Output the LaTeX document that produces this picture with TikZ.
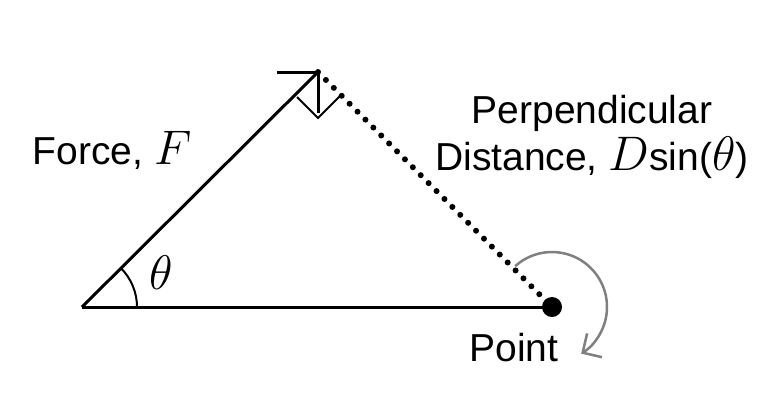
\documentclass[tikz,border=0pt]{standalone}
\usepackage{fontspec}
\usepackage{graphicx}
\setmainfont{Liberation Sans}
\usetikzlibrary{arrows.meta,calc}
\newcommand{\mybigmath}[1]{\scalebox{1.95}{$#1$}}
\begin{document}
\begin{tikzpicture}[x=1pt,y=-1pt,line width=3pt,
  lbl/.style={font=\fontsize{39}{47}\selectfont,inner sep=0pt,align=center}]
\useasboundingbox (0,0) rectangle (781,416);
\coordinate (O) at (82,307);
\coordinate (T) at (318,72);
\coordinate (P) at (552,307);
\draw (O) -- (P);
\draw (O) -- (T);
\draw (277,72) -- (T) -- (318,113);
\draw[line width=2pt] (297,97) -- (318,118) -- (340,96);
\draw[line width=6pt,line cap=round,dash pattern=on 0pt off 11.2pt] (T) -- (P);
\fill (P) circle (10);
\draw[line width=2pt] ($(O)+(55,0)$) arc[start angle=0,end angle=-45,radius=55];
\draw[gray,line width=2.5pt,-{Straight Barb[length=14pt,width=28pt]}] ($(P)+(-132:55)$) arc[start angle=-132,end angle=58,radius=55];
\node[lbl] (f) at (112,150) {Force, \mybigmath{F}};
\node[lbl] (d) at (592,137) {Perpendicular\\Distance, \mybigmath{D}sin(\mybigmath{\theta})};
\node[lbl] (p) at (514,348) {Point};
\node[lbl] (th) at (161,273) {\mybigmath{\theta}};
\end{tikzpicture}
\end{document}
